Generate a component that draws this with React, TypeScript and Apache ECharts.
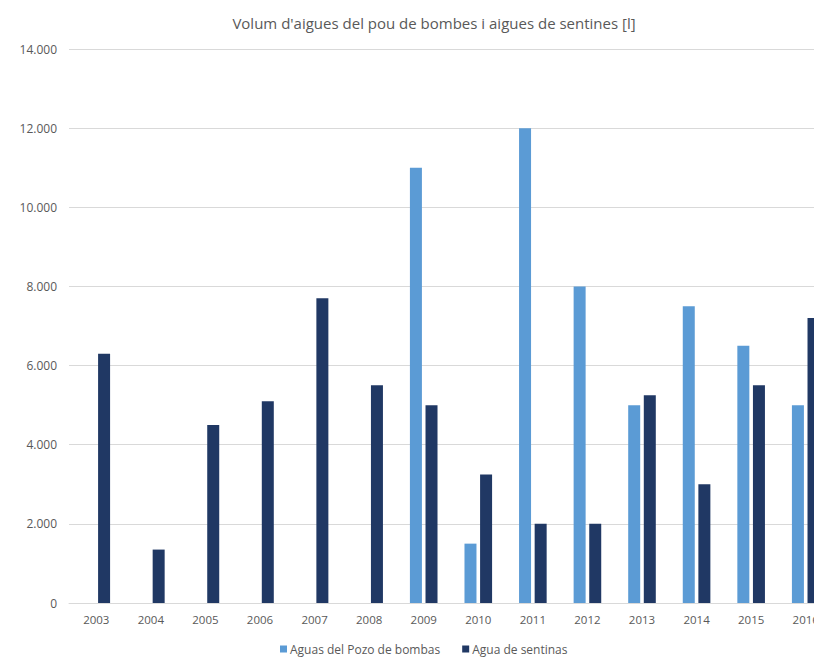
import React, { useEffect, useRef } from "react";
import * as echarts from "echarts";

const years = ["2003","2004","2005","2006","2007","2008","2009","2010","2011","2012","2013","2014","2015","2016"];
const pozoBombas = [null, null, null, null, null, null, 11000, 1500, 12000, 8000, 5000, 7500, 6500, 5000];
const sentinas = [6300, 1350, 4500, 5100, 7700, 5500, 5000, 3250, 2000, 2000, 5250, 3000, 5500, 7200];
const seriesNames = ["Aguas del Pozo de bombas", "Agua de sentinas"];
const titleText = "Volum d'aigues del pou de bombes i aigues de sentines [l]";

const FONT = "'Open Sans', 'Noto Sans', sans-serif";

export default function App() {
  const ref = useRef<HTMLDivElement>(null);
  useEffect(() => {
    if (!ref.current) return;
    const chart = echarts.init(ref.current, null, { renderer: "svg" });
    chart.setOption({
      animation: false,
      backgroundColor: "#ffffff",
      title: {
        text: titleText,
        left: 429,
        textAlign: "center",
        top: 10,
        textStyle: { fontFamily: FONT, fontSize: 15, fontWeight: "normal", color: "#595959" },
      },
      legend: {
        data: seriesNames,
        left: 280,
        top: 642,
        itemWidth: 7,
        itemHeight: 7,
        itemGap: 22,
        icon: "rect",
        padding: 0,
        textStyle: { fontFamily: FONT, fontSize: 12, lineHeight: 14, color: "#595959", padding: [0, 0, 0, -2] },
      },
      grid: { left: 69, top: 49, width: 764, bottom: 56, containLabel: false },
      xAxis: {
        type: "category",
        data: years,
        axisLine: { lineStyle: { color: "#d9d9d9" } },
        axisTick: { show: false },
        axisLabel: { fontFamily: FONT, fontSize: 11.5, color: "#595959", margin: 10 },
      },
      yAxis: {
        type: "value",
        min: 0,
        max: 14000,
        interval: 2000,
        axisLine: { show: false },
        axisTick: { show: false },
        splitLine: { lineStyle: { color: "#d9d9d9" } },
        axisLabel: {
          fontFamily: FONT,
          fontSize: 12,
          color: "#595959",
          margin: 12,
          formatter: (v: number) => v.toLocaleString("de-DE"),
        },
      },
      series: [
        {
          name: seriesNames[0],
          type: "bar",
          data: pozoBombas,
          barWidth: 12,
          barGap: "30%",
          itemStyle: { color: "#5b9bd5" },
        },
        {
          name: seriesNames[1],
          type: "bar",
          data: sentinas,
          barWidth: 12,
          barGap: "30%",
          itemStyle: { color: "#203864" },
        },
      ],
    });
    return () => chart.dispose();
  }, []);
  return (
    <div style={{ width: 814, height: 659, position: "absolute", left: 0, top: 0, overflow: "hidden" }}>
      <div ref={ref} style={{ width: 840, height: 659, position: "absolute", left: 0, top: 0 }} />
    </div>
  );
}
